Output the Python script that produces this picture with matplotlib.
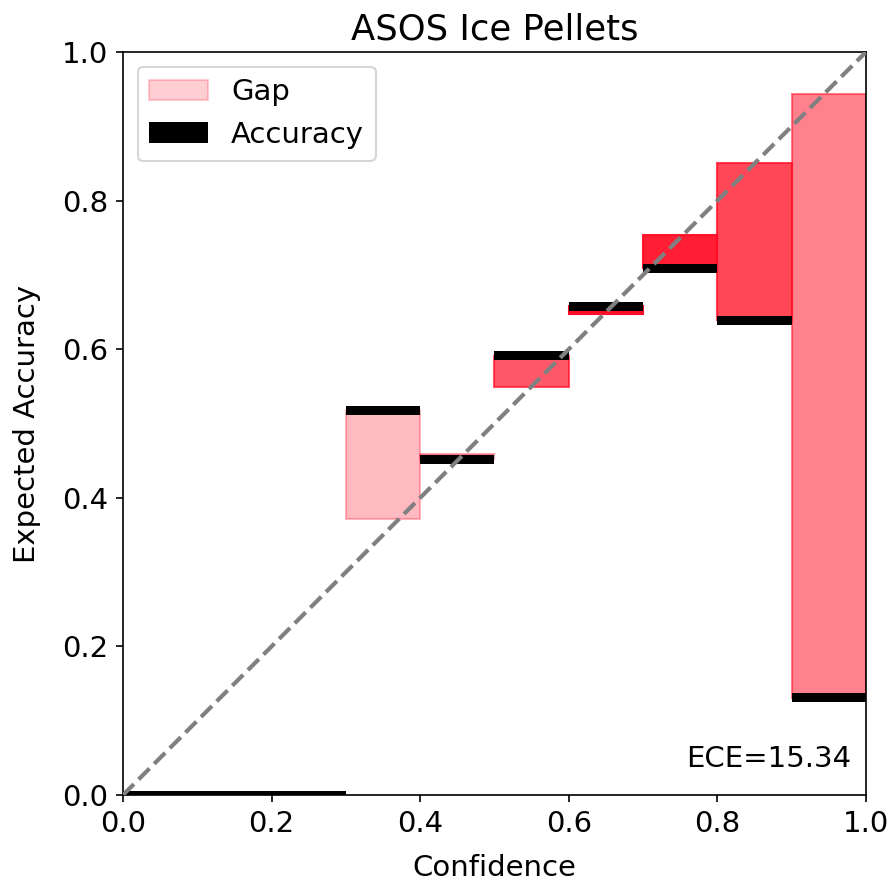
import matplotlib
matplotlib.use("Agg")
import matplotlib.pyplot as plt
import numpy as np

# reliability diagram values
bin_lower = [0.0, 0.1, 0.2, 0.3, 0.4, 0.5, 0.6, 0.7, 0.8, 0.9]
accuracy = [0.0, 0.0, 0.0, 0.518, 0.452, 0.591, 0.658, 0.709, 0.639, 0.131]
confidence = [0.0, 0.0, 0.0, 0.372, 0.459, 0.549, 0.648, 0.754, 0.850, 0.943]
counts = [0, 0, 0, 11, 20, 61, 100, 91, 70, 40]
ece = 15.34
title = "ASOS Ice Pellets"

acc = np.array(accuracy)
conf = np.array(confidence)
cnt = np.array(counts, dtype=float)

alphas = 0.2 + 0.8 * cnt / cnt.max()
colors = np.zeros((len(cnt), 4))
colors[:, 0] = 1.0
colors[:, 1] = 0.05
colors[:, 2] = 0.14
colors[:, 3] = alphas

fig = plt.figure(figsize=(893 / 150, 883 / 150), dpi=150)
ax = fig.add_axes([123 / 893, 1 - 795 / 883, 743 / 893, 743 / 883])

gap_plt = ax.bar(bin_lower, np.abs(acc - conf), bottom=np.minimum(acc, conf),
                 width=0.1, align='edge', color=colors, edgecolor=colors,
                 linewidth=1, label="Gap")
acc_plt = ax.bar(bin_lower, 0.012, bottom=acc - 0.006, width=0.1, align='edge',
                 color="black", linewidth=0, label="Accuracy")

ax.plot([0, 1], [0, 1], linestyle="--", color="gray", linewidth=2, zorder=5)

ax.set_xlim(0, 1)
ax.set_ylim(0, 1)
ax.set_xlabel("Confidence", fontsize=14, labelpad=8)
ax.set_ylabel("Expected Accuracy", fontsize=14, labelpad=10)
ax.set_title(title, fontsize=17)
ax.tick_params(labelsize=14)
ax.text(0.98, 0.03, "ECE=%.2f" % ece, ha="right", va="bottom",
        transform=ax.transAxes, fontsize=14)
ax.legend(handles=[gap_plt, acc_plt], loc="upper left", fontsize=14)

fig.savefig("out.png", dpi=150)
